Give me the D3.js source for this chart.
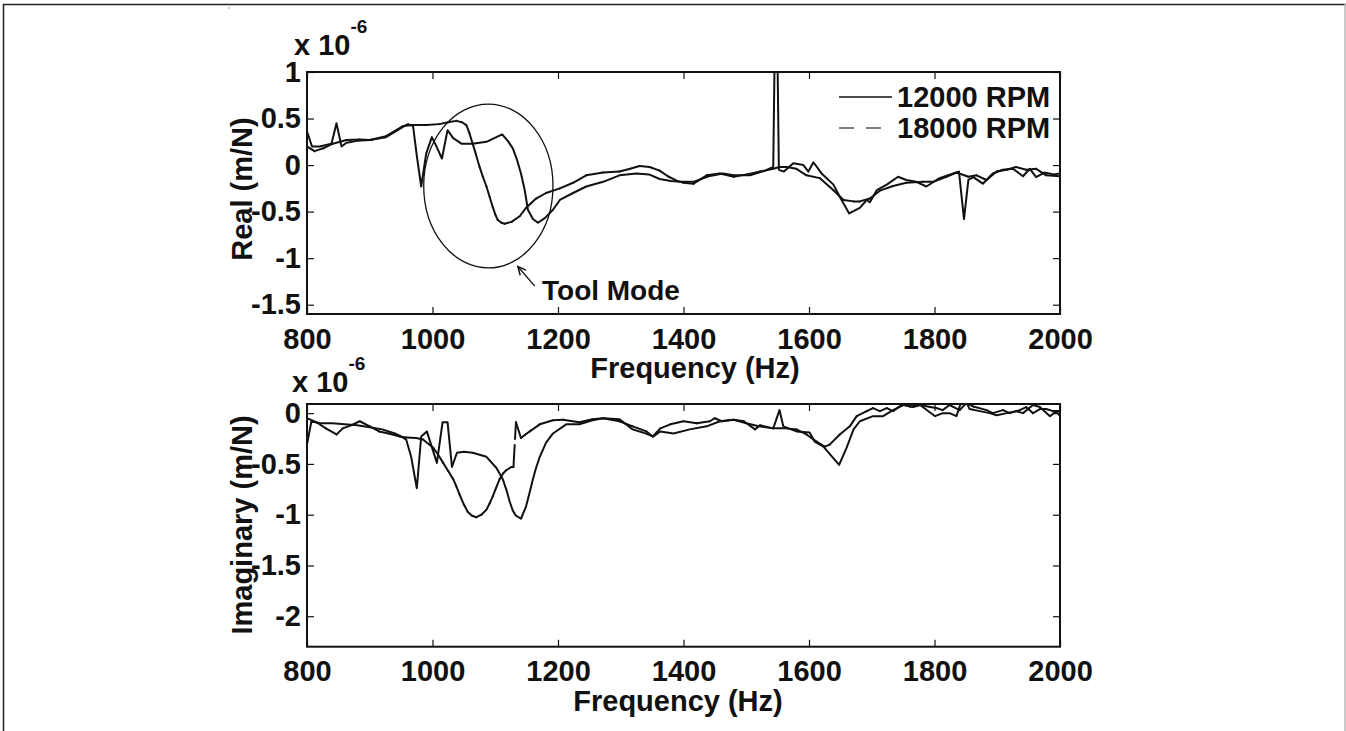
<!DOCTYPE html>
<html>
<head>
<meta charset="utf-8">
<script src="https://cdn.jsdelivr.net/npm/d3@7"></script>
<style>
  body { margin: 0; background: #fff; }
  svg { display: block; }
</style>
</head>
<body>
<div id="chart"></div>
<script>
// ---- data (values in units of 1e-6 m/N) ----
const freqTicks = [800, 1000, 1200, 1400, 1600, 1800, 2000];
const realTicks = [-1.5, -1, -0.5, 0, 0.5, 1];
const imagTicks = [-2, -1.5, -1, -0.5, 0];
const seriesNames = ["12000 RPM", "18000 RPM"];

// real part, 12000 RPM
const real12 = [
  [800,0.36],[808,0.20],[820,0.20],[839,0.23],[847,0.45],[855,0.20],[863,0.24],[880,0.26],
  [900,0.27],[926,0.30],[953,0.41],[961,0.44],[969,0.42],[975,0.10],[982,-0.23],[990,0.125],
  [999,0.30],[1007,0.19],[1015,0.07],[1024,0.375],[1033,0.29],[1046,0.23],[1064,0.23],[1086,0.25],
  [1111,0.33],[1120,0.26],[1128,0.18],[1135,0.05],[1141,-0.09],[1147,-0.27],[1152,-0.48],[1160,-0.58],
  [1168,-0.62],[1179,-0.57],[1192,-0.48],[1203,-0.375],[1224,-0.30],[1245,-0.23],[1272,-0.18],[1298,-0.11],
  [1325,-0.09],[1345,-0.10],[1362,-0.15],[1380,-0.17],[1395,-0.18],[1416,-0.18],[1440,-0.12],[1463,-0.09],
  [1480,-0.11],[1506,-0.11],[1530,-0.06],[1543,-0.02],[1546,1.6],[1549,1.6],[1552,-0.05],[1560,-0.07],
  [1575,0.02],[1591,0.00],[1599,-0.07],[1607,0.03],[1620,-0.09],[1639,-0.21],[1649,-0.34],[1664,-0.52],
  [1681,-0.46],[1692,-0.375],[1697,-0.40],[1708,-0.27],[1724,-0.21],[1742,-0.125],[1755,-0.16],[1771,-0.18],
  [1787,-0.23],[1808,-0.14],[1830,-0.09],[1839,-0.07],[1847,-0.58],[1854,-0.16],[1862,-0.13],[1877,-0.20],
  [1893,-0.09],[1909,-0.05],[1925,-0.04],[1941,-0.12],[1952,-0.04],[1962,-0.13],[1975,-0.08],[1990,-0.10],
  [2000,-0.09]
];

// real part, 18000 RPM
const real18 = [
  [800,0.20],[812,0.15],[826,0.18],[841,0.23],[863,0.27],[884,0.275],[900,0.27],[926,0.31],
  [953,0.42],[969,0.43],[990,0.43],[1011,0.44],[1025,0.46],[1038,0.475],[1047,0.46],[1054,0.43],
  [1059,0.34],[1064,0.23],[1069,0.12],[1075,-0.02],[1080,-0.12],[1086,-0.23],[1091,-0.34],[1096,-0.45],
  [1100,-0.53],[1104,-0.59],[1110,-0.62],[1115,-0.63],[1126,-0.61],[1139,-0.55],[1149,-0.46],[1157,-0.41],
  [1165,-0.36],[1181,-0.30],[1203,-0.25],[1224,-0.19],[1245,-0.11],[1272,-0.08],[1298,-0.07],[1315,-0.04],
  [1330,-0.01],[1346,-0.02],[1362,-0.06],[1375,-0.12],[1390,-0.17],[1400,-0.19],[1416,-0.20],[1437,-0.11],
  [1458,-0.09],[1480,-0.125],[1501,-0.10],[1522,-0.07],[1543,-0.04],[1553,-0.02],[1564,-0.02],[1580,-0.04],
  [1596,-0.11],[1617,-0.14],[1639,-0.27],[1655,-0.375],[1671,-0.39],[1681,-0.39],[1697,-0.36],[1713,-0.275],
  [1734,-0.225],[1755,-0.19],[1782,-0.18],[1798,-0.18],[1819,-0.125],[1835,-0.08],[1854,-0.125],[1867,-0.11],
  [1883,-0.16],[1899,-0.07],[1915,-0.05],[1930,-0.02],[1946,-0.05],[1962,-0.04],[1978,-0.11],[2000,-0.12]
];

// imaginary part, 12000 RPM
const imag12 = [
  [800,-0.31],[807,-0.08],[820,-0.10],[840,-0.10],[860,-0.11],[880,-0.12],[900,-0.14],[920,-0.16],
  [940,-0.20],[950,-0.23],[958,-0.26],[966,-0.43],[975,-0.74],[982,-0.23],[991,-0.18],[1007,-0.49],
  [1016,-0.09],[1024,-0.09],[1031,-0.53],[1039,-0.39],[1050,-0.38],[1064,-0.39],[1086,-0.43],[1102,-0.54],
  [1112,-0.65],[1118,-0.76],[1123,-0.87],[1128,-0.96],[1133,-1.01],[1141,-1.04],[1145,-0.98],[1149,-0.92],
  [1154,-0.80],[1160,-0.65],[1165,-0.54],[1171,-0.43],[1181,-0.29],[1192,-0.20],[1213,-0.11],[1234,-0.11],
  [1255,-0.07],[1272,-0.05],[1298,-0.06],[1319,-0.16],[1335,-0.19],[1352,-0.23],[1363,-0.18],[1384,-0.20],
  [1410,-0.16],[1437,-0.13],[1458,-0.08],[1480,-0.065],[1500,-0.10],[1520,-0.13],[1543,-0.15],[1553,0.03],
  [1559,-0.13],[1580,-0.18],[1601,-0.19],[1609,-0.28],[1623,-0.33],[1648,-0.51],[1660,-0.34],[1671,-0.16],
  [1681,-0.08],[1702,-0.03],[1718,-0.03],[1734,0.03],[1750,0.08],[1766,0.06],[1777,0.08],[1801,-0.03],
  [1813,0.00],[1824,0.00],[1835,-0.03],[1843,0.12],[1850,0.12],[1856,0.04],[1872,0.02],[1888,0.00],
  [1899,-0.02],[1915,0.00],[1930,0.02],[1941,0.00],[1957,0.08],[1968,0.06],[1984,-0.03],[1994,0.02],
  [2000,-0.03]
];

// imaginary part, 18000 RPM
const imag18 = [
  [800,-0.05],[815,-0.09],[830,-0.15],[847,-0.21],[857,-0.15],[870,-0.12],[884,-0.08],[900,-0.13],
  [915,-0.18],[930,-0.20],[948,-0.23],[958,-0.24],[974,-0.245],[985,-0.26],[1001,-0.34],[1009,-0.41],
  [1017,-0.49],[1025,-0.57],[1033,-0.65],[1038,-0.72],[1043,-0.80],[1050,-0.90],[1056,-0.97],[1063,-1.01],
  [1070,-1.025],[1078,-1.00],[1086,-0.95],[1091,-0.89],[1096,-0.82],[1101,-0.74],[1107,-0.65],[1113,-0.59],
  [1118,-0.56],[1126,-0.53],[1129,-0.53],[1133,-0.09],[1141,-0.245],[1148,-0.21],[1155,-0.18],[1171,-0.11],
  [1192,-0.07],[1208,-0.065],[1234,-0.09],[1255,-0.06],[1272,-0.05],[1298,-0.08],[1319,-0.13],[1341,-0.18],
  [1351,-0.23],[1363,-0.15],[1379,-0.11],[1400,-0.08],[1421,-0.10],[1442,-0.08],[1450,-0.05],[1461,-0.08],
  [1480,-0.065],[1496,-0.08],[1514,-0.16],[1522,-0.12],[1543,-0.15],[1564,-0.15],[1580,-0.16],[1596,-0.21],
  [1612,-0.28],[1625,-0.33],[1633,-0.31],[1649,-0.21],[1665,-0.13],[1676,-0.03],[1692,0.02],[1702,0.05],
  [1713,0.02],[1724,0.05],[1734,0.02],[1750,0.09],[1761,0.065],[1777,0.08],[1793,0.06],[1803,0.05],
  [1813,0.03],[1824,0.08],[1840,0.03],[1851,0.10],[1862,0.065],[1883,0.03],[1893,0.00],[1909,0.03],
  [1920,0.00],[1936,0.03],[1946,0.06],[1957,0.00],[1968,0.04],[1978,0.04],[1989,0.02],[2000,0.02]
];

// ---- layout ----
const W = 1346, H = 731;
const FONT = "'Liberation Sans', Arial, Helvetica, sans-serif";
const FS = 29;
const INK = "#111";
const plotLeft = 307, plotRight = 1060;

const panels = [
  { top: 72, bottom: 314, domain: [-1.6, 1], ticks: realTicks, data: [real12, real18],
    ylabel: "Real (m/N)", ylabelY: 189, xlabelX: 695, expX: 294, expY: 55, legend: true, note: true },
  { top: 404, bottom: 646.7, domain: [-2.3, 0.09], ticks: imagTicks, data: [imag12, imag18],
    ylabel: "Imaginary (m/N)", ylabelY: 525, xlabelX: 678, expX: 292, expY: 392, legend: false, note: false }
];

const svg = d3.select("#chart").append("svg")
  .attr("width", W)
  .attr("height", H)
  .style("font-family", FONT);

// outer figure frame
svg.append("line").attr("x1", 3).attr("y1", 4.5).attr("x2", W).attr("y2", 4.5)
  .attr("stroke", "#222").attr("stroke-width", 1.5);
svg.append("line").attr("x1", 3.5).attr("y1", 4).attr("x2", 3.5).attr("y2", H)
  .attr("stroke", "#222").attr("stroke-width", 1.5);
svg.append("line").attr("x1", 1345).attr("y1", 4).attr("x2", 1345).attr("y2", H)
  .attr("stroke", "#b8b8b8").attr("stroke-width", 1.5);
svg.append("rect").attr("x", 228.5).attr("y", 7.5).attr("width", 1).attr("height", 1).attr("fill", "#444");

const x = d3.scaleLinear().domain([800, 2000]).range([plotLeft, plotRight]);

panels.forEach((p, i) => {
  const y = d3.scaleLinear().domain(p.domain).range([p.bottom, p.top]);
  const g = svg.append("g");

  const clipId = "clip" + i;
  svg.append("clipPath").attr("id", clipId)
    .append("rect")
    .attr("x", plotLeft).attr("y", p.top)
    .attr("width", plotRight - plotLeft).attr("height", p.bottom - p.top);

  const line = d3.line().x(d => x(d[0])).y(d => y(d[1]));
  const plot = g.append("g").attr("clip-path", `url(#${clipId})`);

  // 12000 RPM: solid
  plot.append("path")
    .datum(p.data[0])
    .attr("d", line)
    .attr("fill", "none")
    .attr("stroke", INK)
    .attr("stroke-width", 2)
    .attr("stroke-linejoin", "round");

  // 18000 RPM: dashed, pattern restarts at every vertex (like the original renderer)
  plot.selectAll(".seg")
    .data(d3.pairs(p.data[1]))
    .join("path")
    .attr("class", "seg")
    .attr("d", d => line(d))
    .attr("fill", "none")
    .attr("stroke", INK)
    .attr("stroke-width", 2)
    .attr("stroke-linecap", "round")
    .attr("stroke-dasharray", "22,6");

  // axes with inward ticks on all four sides
  const styleAxis = sel => {
    sel.select(".domain").remove();
    sel.selectAll(".tick line").attr("stroke", INK).attr("stroke-width", 1.2);
    sel.selectAll(".tick text")
      .attr("fill", INK)
      .style("font-family", FONT)
      .style("font-size", FS + "px")
      .style("font-weight", "bold");
  };

  g.append("g")
    .attr("transform", `translate(0,${p.bottom})`)
    .call(d3.axisBottom(x).tickValues(freqTicks).tickSize(-7).tickSizeOuter(0).tickPadding(14)
      .tickFormat(d3.format("d")))
    .call(styleAxis);
  g.append("g")
    .attr("transform", `translate(0,${p.top})`)
    .call(d3.axisTop(x).tickValues(freqTicks).tickSize(-7).tickSizeOuter(0).tickFormat(""))
    .call(styleAxis);
  g.append("g")
    .attr("transform", `translate(${plotLeft},0)`)
    .call(d3.axisLeft(y).tickValues(p.ticks).tickSize(-7).tickSizeOuter(0).tickPadding(6)
      .tickFormat(d => String(d)))
    .call(styleAxis);
  g.append("g")
    .attr("transform", `translate(${plotRight},0)`)
    .call(d3.axisRight(y).tickValues(p.ticks).tickSize(-7).tickSizeOuter(0).tickFormat(""))
    .call(styleAxis);

  // box
  g.append("rect")
    .attr("x", plotLeft).attr("y", p.top)
    .attr("width", plotRight - plotLeft).attr("height", p.bottom - p.top)
    .attr("fill", "none").attr("stroke", INK).attr("stroke-width", 2);

  // axis labels
  g.append("text")
    .attr("x", p.xlabelX).attr("y", p.bottom + 64)
    .attr("text-anchor", "middle")
    .attr("font-size", FS).attr("font-weight", "bold").attr("fill", INK)
    .text("Frequency (Hz)");

  g.append("text")
    .attr("transform", `translate(252,${p.ylabelY}) rotate(-90)`)
    .attr("text-anchor", "middle")
    .attr("font-size", FS).attr("font-weight", "bold").attr("fill", INK)
    .text(p.ylabel);

  // exponent label
  const ex = g.append("text")
    .attr("x", p.expX).attr("y", p.expY)
    .attr("font-size", FS).attr("font-weight", "bold").attr("fill", INK);
  ex.append("tspan").text("x 10");
  ex.append("tspan").attr("font-size", 19).attr("dx", 0).attr("dy", -22).text("-6");

  if (p.legend) {
    const lg = g.append("g");
    const rows = [97, 128];
    seriesNames.forEach((name, k) => {
      lg.append("line")
        .attr("x1", 839).attr("x2", 892)
        .attr("y1", rows[k]).attr("y2", rows[k])
        .attr("stroke", k === 0 ? INK : "#555")
        .attr("stroke-width", 1.5)
        .attr("stroke-dasharray", k === 0 ? null : "15,12");
      lg.append("text")
        .attr("x", 897).attr("y", rows[k] + 10)
        .attr("font-size", FS).attr("font-weight", "bold").attr("fill", INK)
        .text(name);
    });
  }

  if (p.note) {
    // "Tool Mode" annotation: ellipse + arrow + label
    const cx = 1089, cy = -0.225, rxHz = 103, ryVal = 0.88;
    g.append("ellipse")
      .attr("cx", x(cx)).attr("cy", y(cy))
      .attr("rx", x(cx + rxHz) - x(cx))
      .attr("ry", y(cy - ryVal) - y(cy))
      .attr("fill", "none").attr("stroke", INK).attr("stroke-width", 1.3);

    const tail = [x(1163), y(-1.30)], tip = [x(1136), y(-1.09)];
    const ang = Math.atan2(tip[1] - tail[1], tip[0] - tail[0]);
    const ah = 9, spread = 0.45;
    g.append("line")
      .attr("x1", tail[0]).attr("y1", tail[1]).attr("x2", tip[0]).attr("y2", tip[1])
      .attr("stroke", INK).attr("stroke-width", 1.3);
    g.append("path")
      .attr("d", d3.line()([
        [tip[0] - ah * Math.cos(ang - spread), tip[1] - ah * Math.sin(ang - spread)],
        tip,
        [tip[0] - ah * Math.cos(ang + spread), tip[1] - ah * Math.sin(ang + spread)]
      ]))
      .attr("fill", "none").attr("stroke", INK).attr("stroke-width", 1.5);

    g.append("text")
      .attr("x", 542).attr("y", 300)
      .attr("font-size", 28).attr("font-weight", "bold").attr("fill", INK)
      .text("Tool Mode");
  }
});
</script>
</body>
</html>
